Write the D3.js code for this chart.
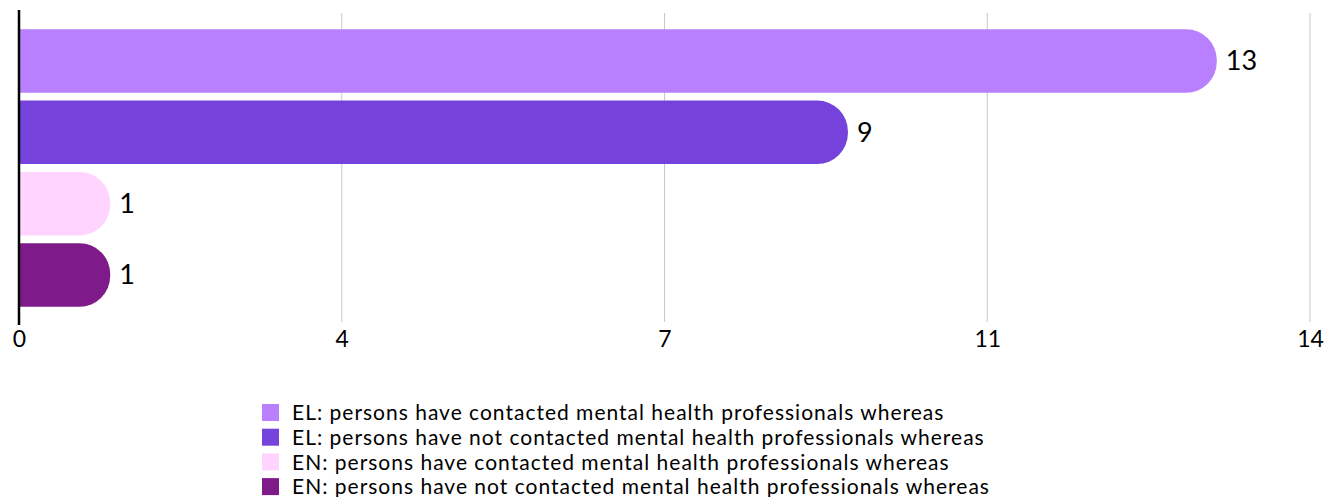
<!DOCTYPE html>
<html>
<head>
<meta charset="utf-8">
<script src="https://cdn.jsdelivr.net/npm/d3@7"></script>
<style>
  body { margin: 0; background: #fff; }
  svg text { font-family: "Lato", "Open Sans", sans-serif; fill: #000; }
</style>
</head>
<body>
<svg id="chart" width="1335" height="497"></svg>
<script>
// data
var categories = [
  "EL: persons have contacted mental health professionals whereas",
  "EL: persons have not contacted mental health professionals whereas",
  "EN: persons have contacted mental health professionals whereas",
  "EN: persons have not contacted mental health professionals whereas"
];
var values = [13, 9, 1, 1];
var colors = ["#b880ff", "#7543db", "#ffd4ff", "#7f1a8a"];
var tickValues = [0, 3.5, 7, 10.5, 14];

var svg = d3.select("#chart");

var x = d3.scaleLinear().domain([0, 14]).range([19, 1310]);
var y = d3.scaleBand().domain(categories).range([25, 311]).paddingInner(0.11).paddingOuter(0.06);

// gridlines
svg.append("g")
  .selectAll("line")
  .data(tickValues.slice(1))
  .join("line")
  .attr("x1", function(d) { return x(d); })
  .attr("x2", function(d) { return x(d); })
  .attr("y1", 13)
  .attr("y2", 322)
  .attr("stroke", "#c8c8c8")
  .attr("stroke-width", 1);

// bars, square on the left, rounded on the right
function barPath(d, i) {
  var x0 = x(0) + 1, x1 = x(d) - 1, y0 = y(categories[i]), h = y.bandwidth();
  var r = Math.min(h / 2 - 1, x1 - x0);
  return "M" + x0 + "," + y0 +
    "H" + (x1 - r) +
    "A" + r + "," + r + " 0 0 1 " + x1 + "," + (y0 + r) +
    "V" + (y0 + h - r) +
    "A" + r + "," + r + " 0 0 1 " + (x1 - r) + "," + (y0 + h) +
    "H" + x0 + "Z";
}

svg.append("g")
  .selectAll("path")
  .data(values)
  .join("path")
  .attr("d", barPath)
  .attr("fill", function(d, i) { return colors[i]; });

// value labels
svg.append("g")
  .selectAll("text")
  .data(values)
  .join("text")
  .attr("x", function(d) { return x(d) + 8; })
  .attr("y", function(d, i) { return y(categories[i]) + y.bandwidth() / 2; })
  .attr("dy", "0.35em")
  .attr("font-size", 27)
  .text(function(d) { return d; });

// axis line
svg.append("line")
  .attr("x1", x(0)).attr("x2", x(0))
  .attr("y1", 10).attr("y2", 325)
  .attr("stroke", "#000")
  .attr("stroke-width", 2.5);

// tick labels
var xAxis = d3.axisBottom(x)
  .tickValues(tickValues)
  .tickSize(0)
  .tickPadding(0)
  .tickFormat(d3.format(".0f"));

var axisG = svg.append("g")
  .attr("transform", "translate(0,331)")
  .call(xAxis);
axisG.select(".domain").remove();
axisG.selectAll("text")
  .attr("font-size", 23)
  .attr("dy", "0.71em")
  .style("font-family", "Lato, 'Open Sans', sans-serif")
  .attr("fill", "#000");

// legend
var legend = svg.append("g")
  .selectAll("g")
  .data(categories)
  .join("g")
  .attr("transform", function(d, i) { return "translate(262," + (404 + i * 24.7) + ")"; });

legend.append("rect")
  .attr("width", 17)
  .attr("height", 17)
  .attr("fill", function(d, i) { return colors[i]; });

legend.append("text")
  .attr("x", 30)
  .attr("y", 9)
  .attr("dy", "0.35em")
  .attr("font-size", 21)
  .attr("letter-spacing", 1)
  .text(function(d) { return d; });
</script>
</body>
</html>
